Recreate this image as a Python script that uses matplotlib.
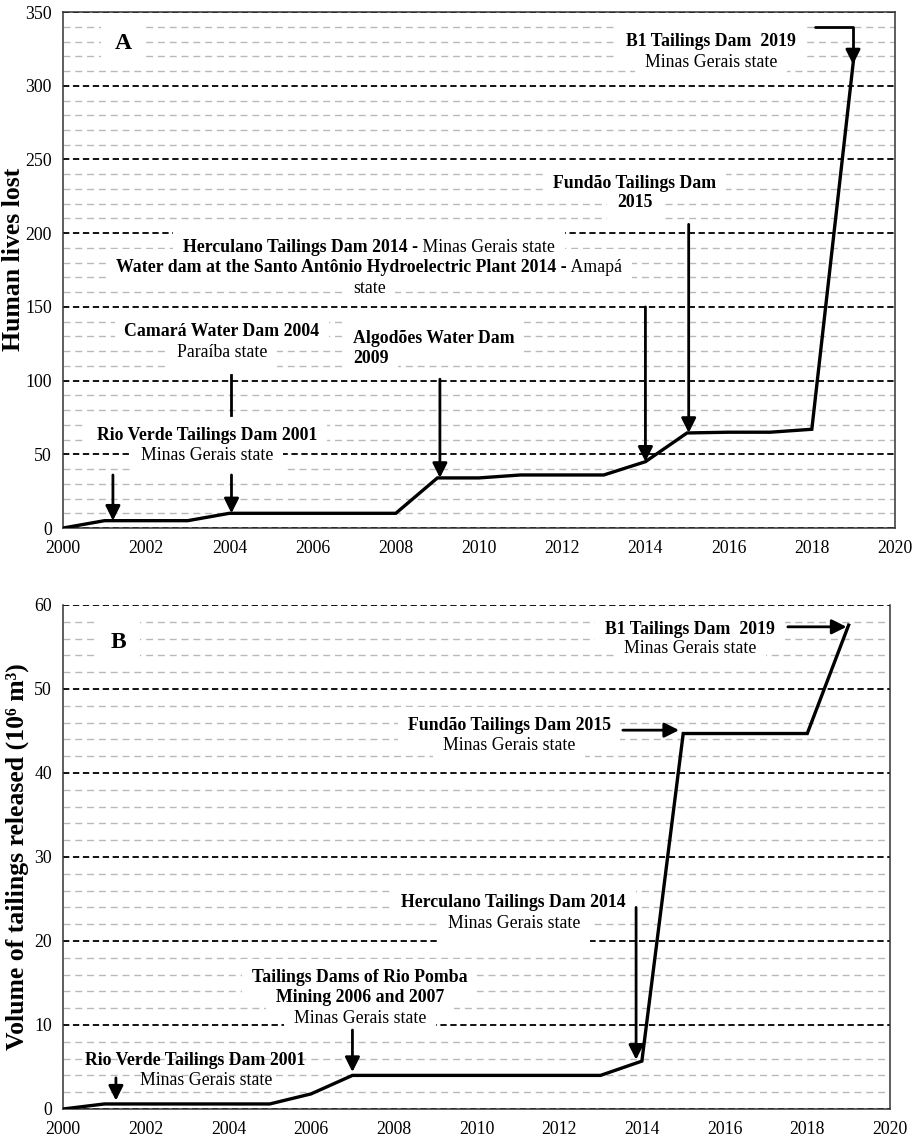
import matplotlib
matplotlib.use("Agg")
import matplotlib.pyplot as plt
import numpy as np

plt.rcParams['font.family'] = ['Liberation Serif', 'DejaVu Serif']

# Data
years = list(range(2000, 2020))
lives_lost = [0, 5, 5, 5, 10, 10, 10, 10, 10, 34, 34, 36, 36, 36, 45, 64.5, 65, 65, 67, 317]
tailings_volume = [0, 0.6, 0.6, 0.6, 0.6, 0.6, 1.8, 4.0, 4.0, 4.0, 4.0, 4.0, 4.0, 4.0,
                   5.7, 44.7, 44.7, 44.7, 44.7, 57.6]
x_ticks = list(range(2000, 2021, 2))

FS = 12.8
BOX = dict(facecolor='white', edgecolor='none', boxstyle='square,pad=0.55')


def style_axes(ax, ymax, major, minor, top_spine=True):
    ax.set_xlim(2000, 2020)
    ax.set_ylim(0, ymax)
    ax.set_xticks(x_ticks)
    ax.set_yticks(np.arange(0, ymax + 0.1, major))
    ax.set_yticks(np.arange(0, ymax + 0.1, minor), minor=True)
    ax.tick_params(which='both', length=0, labelsize=FS)
    ax.tick_params(axis='x', pad=8.5)
    ax.tick_params(axis='y', pad=8)
    ax.set_axisbelow(True)
    ax.grid(which='minor', axis='y', color='#b9b9b9', lw=1.0, ls=(0, (5, 3.5)))
    ax.grid(which='major', axis='y', color='black', lw=1.3, ls=(0, (3.5, 2)))
    for s in ax.spines.values():
        s.set_color('#333333')
        s.set_linewidth(1.1)
    ax.spines['top'].set_visible(top_spine)


def put(ax, x, y, s, weight='bold', ha='center', box=True, fs=FS):
    kw = dict(ha=ha, va='center', fontsize=fs, fontweight=weight)
    if box:
        # white patch drawn below every text so that lines do not hide each other
        ax.text(x, y, s, color='none', bbox=BOX, zorder=2.5, **kw)
    return ax.text(x, y, s, zorder=3, **kw)


def mixed(ax, x, y, parts):
    # one centred line made of a bold part and a regular part
    arts = []
    for text, weight in parts:
        kw = dict(xytext=(0, 0), textcoords='offset pixels', ha='left',
                  va='center', fontsize=FS, fontweight=weight)
        bg = ax.annotate(text, (x, y), color='none', bbox=BOX, zorder=2.5, **kw)
        fg = ax.annotate(text, (x, y), zorder=3, **kw)
        arts.append((bg, fg))
    r = ax.figure.canvas.get_renderer()
    widths = [fg.get_window_extent(r).width for bg, fg in arts]
    off = -sum(widths) / 2
    for (bg, fg), w in zip(arts, widths):
        bg.xyann = (off, 0)
        fg.xyann = (off, 0)
        off += w


def arrow(ax, start, end, style='arc3'):
    ax.annotate('', xy=end, xytext=start, zorder=3.5,
                arrowprops=dict(arrowstyle='-|>', color='black', lw=2.0,
                                mutation_scale=22, shrinkA=0, shrinkB=0,
                                connectionstyle=style))


fig = plt.figure(figsize=(9.21, 11.39), dpi=100)

# ---------------- Panel A: human lives lost ----------------
axA = fig.add_axes([0.0684, 0.5364, 0.9034, 0.4530])
style_axes(axA, 350, 50, 10)
axA.plot(years, lives_lost, color='black', lw=2.4, zorder=4, solid_joinstyle='miter')
axA.set_ylabel('Human lives lost', fontsize=18.5, fontweight='bold')
axA.yaxis.set_label_coords(-0.046, 0.52)

put(axA, 2001.44, 329, 'A', fs=17)
put(axA, 2015.58, 329.7, 'B1 Tailings Dam  2019')
put(axA, 2015.58, 316, 'Minas Gerais state', weight='normal')
put(axA, 2013.75, 234, 'Fundão Tailings Dam')
put(axA, 2013.75, 220.5, '2015')
mixed(axA, 2007.36, 190.6, [('Herculano Tailings Dam 2014 -', 'bold'),
                             (' Minas Gerais state', 'normal')])
mixed(axA, 2007.36, 177, [('Water dam at the Santo Antônio Hydroelectric Plant 2014 -', 'bold'),
                           (' Amapá', 'normal')])
put(axA, 2007.36, 162.8, 'state', weight='normal')
put(axA, 2003.82, 133.6, 'Camará Water Dam 2004')
put(axA, 2003.82, 119.4, 'Paraíba state', weight='normal')
put(axA, 2006.97, 128.9, 'Algodões Water Dam', ha='left')
put(axA, 2006.97, 115.3, '2009', ha='left')
put(axA, 2003.46, 63.1, 'Rio Verde Tailings Dam 2001')
put(axA, 2003.46, 49.5, 'Minas Gerais state', weight='normal')

for x, top in [(2001.2, 36), (2004.05, 36), (2009.06, 101), (2014.0, 150), (2015.04, 206)]:
    arrow(axA, (x, top), (x, np.interp(x, years, lives_lost)))
# the Camará arrow is broken by the Rio Verde text box
axA.plot([2004.05, 2004.05], [104, 77], color='black', lw=2.0, zorder=3.5)
arrow(axA, (2018.08, 340), (2018.99, np.interp(2018.99, years, lives_lost)),
      style='angle,angleA=0,angleB=90,rad=0')

# ---------------- Panel B: volume of tailings ----------------
axB = fig.add_axes([0.0684, 0.02634, 0.8979, 0.4425])
style_axes(axB, 60, 10, 2, top_spine=False)
axB.plot(years, tailings_volume, color='black', lw=2.4, zorder=4, solid_joinstyle='miter')
axB.set_ylabel('Volume of tailings released (10⁶ m³)', fontsize=18.5, fontweight='bold')
axB.yaxis.set_label_coords(-0.041, 0.5)

put(axB, 2001.35, 55.5, 'B', fs=17)
put(axB, 2015.16, 57.1, 'B1 Tailings Dam  2019')
put(axB, 2015.16, 54.8, 'Minas Gerais state', weight='normal')
put(axB, 2010.79, 45.7, 'Fundão Tailings Dam 2015')
put(axB, 2010.79, 43.3, 'Minas Gerais state', weight='normal')
put(axB, 2010.9, 24.6, 'Herculano Tailings Dam 2014')
put(axB, 2010.9, 22.1, 'Minas Gerais state', weight='normal')
put(axB, 2007.18, 15.7, 'Tailings Dams of Rio Pomba')
put(axB, 2007.18, 13.3, 'Mining 2006 and 2007')
put(axB, 2007.18, 10.8, 'Minas Gerais state', weight='normal')
put(axB, 2003.2, 5.8, 'Rio Verde Tailings Dam 2001', box=False)
put(axB, 2003.46, 3.45, 'Minas Gerais state', weight='normal', box=False)

arrow(axB, (2017.53, 57.4), (2018.95, 57.4))
arrow(axB, (2013.54, 45.1), (2014.9, 45.1))
for x, top in [(2013.86, 24), (2007.0, 9.4), (2001.28, 3.7)]:
    arrow(axB, (x, top), (x, np.interp(x, years, tailings_volume) + 0.4))

fig.savefig('out.png', dpi=100)
